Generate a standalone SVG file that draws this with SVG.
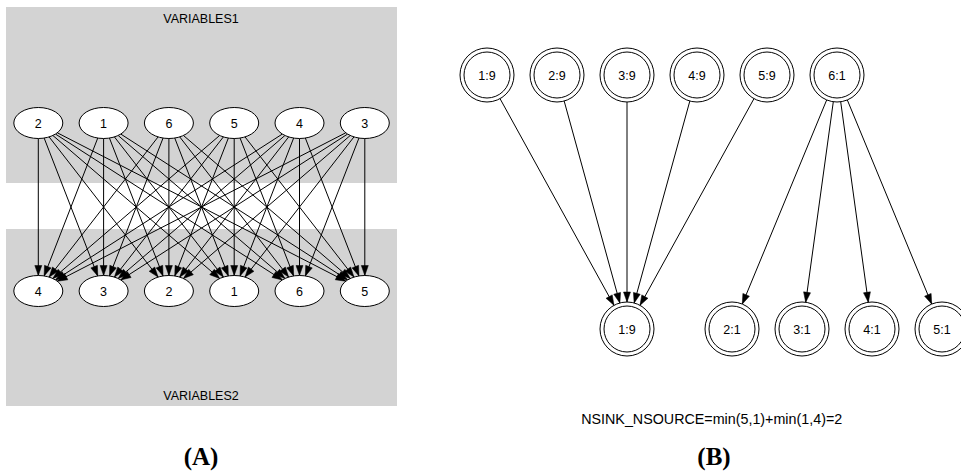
<svg xmlns="http://www.w3.org/2000/svg" width="961" height="473" viewBox="0 0 961 473">
<style>
.cl{fill:#d3d3d3;stroke:none}
.n ellipse{fill:#fff;stroke:#000;stroke-width:1}
.n circle{fill:#fff;stroke:#000;stroke-width:1}
.t{font-family:"Liberation Sans",Arial,Helvetica,sans-serif;font-size:12.5px;text-anchor:middle;fill:#000}
.e line{stroke:#000;stroke-width:1;fill:none;marker-end:url(#ah)}
.cap{font-family:"Liberation Serif","Times New Roman",serif;font-weight:bold;font-size:25px;text-anchor:middle;fill:#000}
</style>
<defs>
<marker id="ah" markerUnits="userSpaceOnUse" markerWidth="10" markerHeight="7" refX="10" refY="3.5" orient="auto" overflow="visible">
<path d="M0,0 L10,3.5 L0,7 z" fill="#000" stroke="#000" stroke-width="0.5"/>
</marker>
</defs>
<rect width="961" height="473" fill="#fff"/>
<g id="cluster-variables1">
<rect class="cl" x="6" y="7" width="391" height="176"/>
<text class="t" x="201" y="23">VARIABLES1</text>
</g>
<g id="cluster-variables2">
<rect class="cl" x="6" y="229" width="391" height="177"/>
<text class="t" x="201" y="400">VARIABLES2</text>
</g>
<g id="edges-a" class="e">
<line x1="38.3" y1="138.5" x2="38.3" y2="275.5"/>
<line x1="44.15" y1="138.05" x2="97.75" y2="275.95"/>
<line x1="49.12" y1="136.91" x2="158.08" y2="277.09"/>
<line x1="52.85" y1="135.47" x2="219.65" y2="278.53"/>
<line x1="55.48" y1="134.05" x2="282.32" y2="279.95"/>
<line x1="57.31" y1="132.78" x2="345.79" y2="281.22"/>
<line x1="97.75" y1="138.05" x2="44.15" y2="275.95"/>
<line x1="103.6" y1="138.5" x2="103.6" y2="275.5"/>
<line x1="109.45" y1="138.05" x2="163.05" y2="275.95"/>
<line x1="114.42" y1="136.91" x2="223.38" y2="277.09"/>
<line x1="118.15" y1="135.47" x2="284.95" y2="278.53"/>
<line x1="120.78" y1="134.05" x2="347.62" y2="279.95"/>
<line x1="158.08" y1="136.91" x2="49.12" y2="277.09"/>
<line x1="163.05" y1="138.05" x2="109.45" y2="275.95"/>
<line x1="168.9" y1="138.5" x2="168.9" y2="275.5"/>
<line x1="174.75" y1="138.05" x2="228.35" y2="275.95"/>
<line x1="179.72" y1="136.91" x2="288.68" y2="277.09"/>
<line x1="183.45" y1="135.47" x2="350.25" y2="278.53"/>
<line x1="219.65" y1="135.47" x2="52.85" y2="278.53"/>
<line x1="223.38" y1="136.91" x2="114.42" y2="277.09"/>
<line x1="228.35" y1="138.05" x2="174.75" y2="275.95"/>
<line x1="234.2" y1="138.5" x2="234.2" y2="275.5"/>
<line x1="240.05" y1="138.05" x2="293.65" y2="275.95"/>
<line x1="245.02" y1="136.91" x2="353.98" y2="277.09"/>
<line x1="282.32" y1="134.05" x2="55.48" y2="279.95"/>
<line x1="284.95" y1="135.47" x2="118.15" y2="278.53"/>
<line x1="288.68" y1="136.91" x2="179.72" y2="277.09"/>
<line x1="293.65" y1="138.05" x2="240.05" y2="275.95"/>
<line x1="299.5" y1="138.5" x2="299.5" y2="275.5"/>
<line x1="305.35" y1="138.05" x2="358.95" y2="275.95"/>
<line x1="345.79" y1="132.78" x2="57.31" y2="281.22"/>
<line x1="347.62" y1="134.05" x2="120.78" y2="279.95"/>
<line x1="350.25" y1="135.47" x2="183.45" y2="278.53"/>
<line x1="353.98" y1="136.91" x2="245.02" y2="277.09"/>
<line x1="358.95" y1="138.05" x2="305.35" y2="275.95"/>
<line x1="364.8" y1="138.5" x2="364.8" y2="275.5"/>
</g>
<g id="v1-2" class="n"><ellipse cx="38.3" cy="123" rx="24.5" ry="15.5"/><text class="t" x="38.3" y="127.5">2</text></g>
<g id="v1-1" class="n"><ellipse cx="103.6" cy="123" rx="24.5" ry="15.5"/><text class="t" x="103.6" y="127.5">1</text></g>
<g id="v1-6" class="n"><ellipse cx="168.9" cy="123" rx="24.5" ry="15.5"/><text class="t" x="168.9" y="127.5">6</text></g>
<g id="v1-5" class="n"><ellipse cx="234.2" cy="123" rx="24.5" ry="15.5"/><text class="t" x="234.2" y="127.5">5</text></g>
<g id="v1-4" class="n"><ellipse cx="299.5" cy="123" rx="24.5" ry="15.5"/><text class="t" x="299.5" y="127.5">4</text></g>
<g id="v1-3" class="n"><ellipse cx="364.8" cy="123" rx="24.5" ry="15.5"/><text class="t" x="364.8" y="127.5">3</text></g>
<g id="v2-4" class="n"><ellipse cx="38.3" cy="291" rx="24.5" ry="15.5"/><text class="t" x="38.3" y="295.5">4</text></g>
<g id="v2-3" class="n"><ellipse cx="103.6" cy="291" rx="24.5" ry="15.5"/><text class="t" x="103.6" y="295.5">3</text></g>
<g id="v2-2" class="n"><ellipse cx="168.9" cy="291" rx="24.5" ry="15.5"/><text class="t" x="168.9" y="295.5">2</text></g>
<g id="v2-1" class="n"><ellipse cx="234.2" cy="291" rx="24.5" ry="15.5"/><text class="t" x="234.2" y="295.5">1</text></g>
<g id="v2-6" class="n"><ellipse cx="299.5" cy="291" rx="24.5" ry="15.5"/><text class="t" x="299.5" y="295.5">6</text></g>
<g id="v2-5" class="n"><ellipse cx="364.8" cy="291" rx="24.5" ry="15.5"/><text class="t" x="364.8" y="295.5">5</text></g>
<text class="cap" x="201" y="465">(A)</text>
<g id="edges-b" class="e">
<line x1="500.03" y1="98.65" x2="613.97" y2="305.35"/>
<line x1="564.17" y1="101.03" x2="619.83" y2="302.97"/>
<line x1="627" y1="102" x2="627" y2="302"/>
<line x1="689.83" y1="101.03" x2="634.17" y2="302.97"/>
<line x1="753.97" y1="98.65" x2="640.03" y2="305.35"/>
<line x1="826.69" y1="99.95" x2="742.31" y2="304.05"/>
<line x1="833.31" y1="101.75" x2="805.69" y2="302.25"/>
<line x1="840.69" y1="101.75" x2="868.31" y2="302.25"/>
<line x1="847.31" y1="99.95" x2="931.69" y2="304.05"/>
</g>
<g id="b-src-1" class="n"><circle cx="487" cy="75" r="27"/><circle cx="487" cy="75" r="23"/><text class="t" x="487" y="79.5">1:9</text></g>
<g id="b-src-2" class="n"><circle cx="557" cy="75" r="27"/><circle cx="557" cy="75" r="23"/><text class="t" x="557" y="79.5">2:9</text></g>
<g id="b-src-3" class="n"><circle cx="627" cy="75" r="27"/><circle cx="627" cy="75" r="23"/><text class="t" x="627" y="79.5">3:9</text></g>
<g id="b-src-4" class="n"><circle cx="697" cy="75" r="27"/><circle cx="697" cy="75" r="23"/><text class="t" x="697" y="79.5">4:9</text></g>
<g id="b-src-5" class="n"><circle cx="767" cy="75" r="27"/><circle cx="767" cy="75" r="23"/><text class="t" x="767" y="79.5">5:9</text></g>
<g id="b-src-6" class="n"><circle cx="837" cy="75" r="27"/><circle cx="837" cy="75" r="23"/><text class="t" x="837" y="79.5">6:1</text></g>
<g id="b-snk-1" class="n"><circle cx="627" cy="329" r="27"/><circle cx="627" cy="329" r="23"/><text class="t" x="627" y="333.5">1:9</text></g>
<g id="b-snk-2" class="n"><circle cx="732" cy="329" r="27"/><circle cx="732" cy="329" r="23"/><text class="t" x="732" y="333.5">2:1</text></g>
<g id="b-snk-3" class="n"><circle cx="802" cy="329" r="27"/><circle cx="802" cy="329" r="23"/><text class="t" x="802" y="333.5">3:1</text></g>
<g id="b-snk-4" class="n"><circle cx="872" cy="329" r="27"/><circle cx="872" cy="329" r="23"/><text class="t" x="872" y="333.5">4:1</text></g>
<g id="b-snk-5" class="n"><circle cx="942" cy="329" r="27"/><circle cx="942" cy="329" r="23"/><text class="t" x="942" y="333.5">5:1</text></g>
<text class="t" x="711.7" y="424" style="font-size:14.3px">NSINK_NSOURCE=min(5,1)+min(1,4)=2</text>
<text class="cap" x="714" y="465">(B)</text>
</svg>
